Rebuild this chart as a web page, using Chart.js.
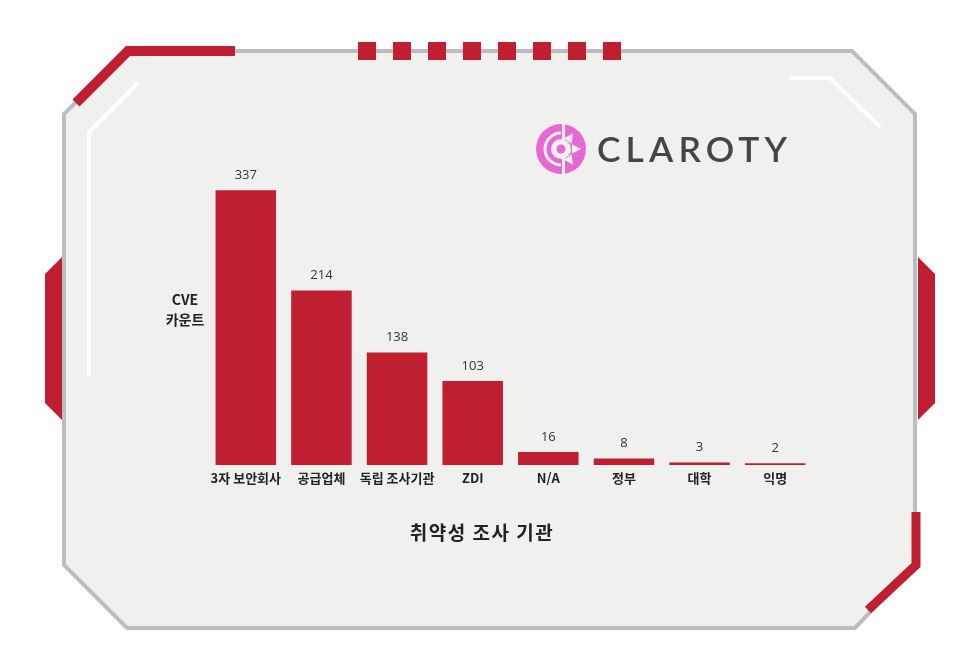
<!DOCTYPE html>
<html lang="ko">
<head>
<meta charset="utf-8">
<title>CVE 카운트 - 취약성 조사 기관</title>
<script src="https://cdn.jsdelivr.net/npm/chart.js@4.4.1/dist/chart.umd.min.js"></script>
<style>
    html, body { margin: 0; padding: 0; background: #ffffff; }
    #wrap { position: relative; width: 960px; height: 650px; }
</style>
</head>
<body>
<div id="wrap">
    <canvas id="cve-chart" width="960" height="650"></canvas>
</div>
<script>
// Data
const categories = ['3자 보안회사', '공급업체', '독립 조사기관', 'ZDI', 'N/A', '정부', '대학', '익명'];
const cveCounts = [337, 214, 138, 103, 16, 8, 3, 2];
const yAxisLines = ['CVE', '카운트'];
const xAxisTitle = '취약성 조사 기관';
const brandName = 'CLAROTY';

const RED = '#c01f31';
const GRAY = '#bdbdc1';
const PANEL = '#f0f0ef';
const PINK = '#e668d3';
const KR_FONT = '"Noto Sans CJK KR", "Noto Sans", sans-serif';

function strokePath(ctx, pts, width, color) {
    ctx.beginPath();
    ctx.moveTo(pts[0][0], pts[0][1]);
    for (let i = 1; i < pts.length; i++) ctx.lineTo(pts[i][0], pts[i][1]);
    ctx.lineWidth = width;
    ctx.strokeStyle = color;
    ctx.lineJoin = 'miter';
    ctx.lineCap = 'butt';
    ctx.stroke();
}

function fillPoly(ctx, pts, color) {
    ctx.beginPath();
    ctx.moveTo(pts[0][0], pts[0][1]);
    for (let i = 1; i < pts.length; i++) ctx.lineTo(pts[i][0], pts[i][1]);
    ctx.closePath();
    ctx.fillStyle = color;
    ctx.fill();
}

function drawLogoIcon(ctx, cx, cy) {
    ctx.save();
    ctx.fillStyle = PINK;
    ctx.beginPath(); ctx.arc(cx, cy, 25, 0, Math.PI * 2); ctx.fill();
    // split between outer C and inner part
    ctx.strokeStyle = PANEL;
    ctx.lineWidth = 3;
    ctx.beginPath(); ctx.arc(cx, cy, 16, Math.PI * 0.5, Math.PI * 1.5); ctx.stroke();
    ctx.fillStyle = PANEL;
    ctx.fillRect(cx + 1, cy - 25, 3, 50);
    // gear teeth on the right
    [-55, 0, 55].forEach(deg => {
        const a = deg * Math.PI / 180;
        const tip = [cx + 1 + Math.cos(a) * 19, cy + Math.sin(a) * 19];
        const l = [cx + 1 + Math.cos(a - 0.45) * 11, cy + Math.sin(a - 0.45) * 11];
        const r = [cx + 1 + Math.cos(a + 0.45) * 11, cy + Math.sin(a + 0.45) * 11];
        fillPoly(ctx, [tip, l, r], PANEL);
    });
    // centre ring and dot
    ctx.fillStyle = PANEL;
    ctx.beginPath(); ctx.arc(cx, cy, 10, 0, Math.PI * 2); ctx.fill();
    ctx.fillStyle = PINK;
    ctx.beginPath(); ctx.arc(cx, cy, 4.5, 0, Math.PI * 2); ctx.fill();
    ctx.restore();
}

// Frame, decorations and logo behind the bars
const framePlugin = {
    id: 'frame',
    beforeDraw(chart) {
        const ctx = chart.ctx;
        ctx.save();
        ctx.fillStyle = '#ffffff';
        ctx.fillRect(0, 0, chart.width, chart.height);

        // panel
        const panel = [[127, 51], [852, 51], [915, 114], [915, 565], [855, 628], [127, 628], [64, 565], [64, 114]];
        fillPoly(ctx, panel, PANEL);
        ctx.beginPath();
        ctx.moveTo(panel[0][0], panel[0][1]);
        panel.slice(1).forEach(p => ctx.lineTo(p[0], p[1]));
        ctx.closePath();
        ctx.lineWidth = 4;
        ctx.strokeStyle = GRAY;
        ctx.stroke();

        // side tabs
        fillPoly(ctx, [[62, 257], [45, 274], [45, 403], [62, 420]], RED);
        fillPoly(ctx, [[918, 257], [935, 274], [935, 403], [918, 420]], RED);

        // red accents
        strokePath(ctx, [[76, 103], [128, 51], [235, 51]], 10, RED);
        strokePath(ctx, [[916, 512], [916, 565], [868, 610]], 9, RED);

        // top squares
        ctx.fillStyle = RED;
        for (let i = 0; i < 8; i++) ctx.fillRect(358 + 35 * i, 42, 18, 18);

        // inner white lines
        strokePath(ctx, [[138, 83], [89, 132], [89, 376]], 4, '#ffffff');
        strokePath(ctx, [[790, 78], [830, 78], [880, 127]], 4, '#ffffff');

        // logo
        drawLogoIcon(ctx, 561, 149);
        ctx.fillStyle = '#454545';
        ctx.font = '600 35px Lato, "DejaVu Sans", sans-serif';
        ctx.letterSpacing = '5px';
        ctx.textAlign = 'left';
        ctx.textBaseline = 'alphabetic';
        const w = ctx.measureText(brandName).width - 5;
        ctx.save();
        ctx.translate(597, 162);
        ctx.scale(190 / w, 1);
        ctx.fillText(brandName, 0, 0);
        ctx.restore();
        ctx.letterSpacing = '0px';
        ctx.restore();
    }
};

// Value labels and axis captions
const labelPlugin = {
    id: 'labels',
    afterDatasetsDraw(chart) {
        const ctx = chart.ctx;
        const meta = chart.getDatasetMeta(0);
        ctx.save();
        ctx.fillStyle = '#333333';
        ctx.font = '400 13px "Open Sans", sans-serif';
        ctx.textAlign = 'center';
        ctx.textBaseline = 'middle';
        meta.data.forEach((bar, i) => {
            ctx.fillText(String(cveCounts[i]), bar.x, bar.y - 15);
        });

        ctx.fillStyle = '#222222';
        ctx.font = '700 14px ' + KR_FONT;
        yAxisLines.forEach((line, i) => ctx.fillText(line, 185, 300 + i * 20));

        ctx.font = '700 19px ' + KR_FONT;
        ctx.letterSpacing = '1.5px';
        ctx.fillText(xAxisTitle, 482, 533);
        ctx.letterSpacing = '0px';
        ctx.restore();
    }
};

const ctx = document.getElementById('cve-chart').getContext('2d');
new Chart(ctx, {
    type: 'bar',
    data: {
        labels: categories,
        datasets: [{
            label: 'CVE 카운트',
            data: cveCounts,
            backgroundColor: RED,
            borderWidth: 0,
            barPercentage: 0.8,
            categoryPercentage: 1.0
        }]
    },
    options: {
        responsive: false,
        animation: false,
        layout: {
            padding: { left: 208, right: 147, top: 139, bottom: 155 }
        },
        plugins: {
            legend: { display: false },
            tooltip: { enabled: false }
        },
        scales: {
            x: {
                grid: { display: false },
                border: { display: false },
                ticks: {
                    color: '#222222',
                    font: { family: KR_FONT, size: 13, weight: '700' },
                    padding: -3,
                    maxRotation: 0,
                    autoSkip: false
                },
                afterFit(scale) { scale.height = 30; }
            },
            y: {
                display: false,
                min: 0,
                max: 400
            }
        }
    },
    plugins: [framePlugin, labelPlugin]
});
</script>
</body>
</html>
